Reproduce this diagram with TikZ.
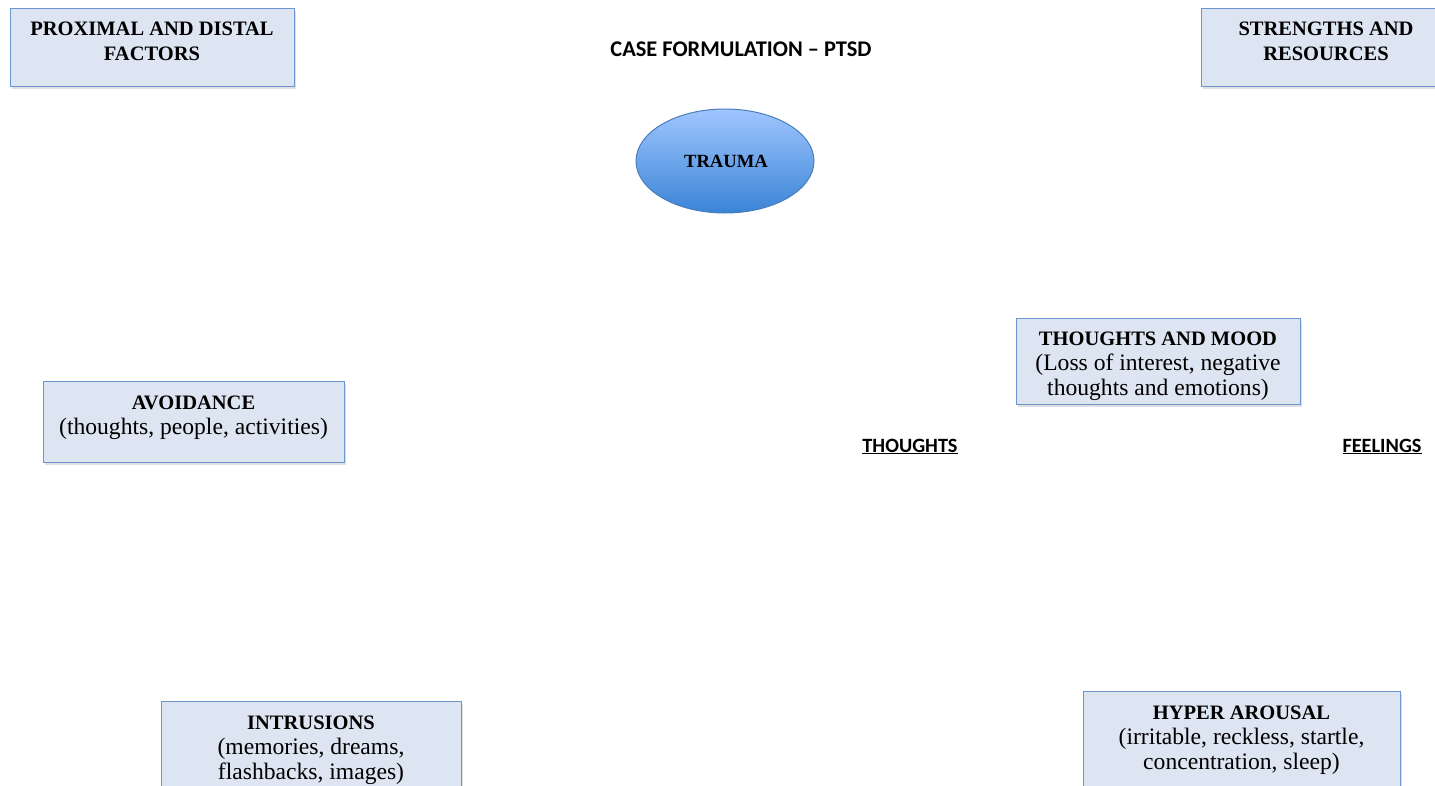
\documentclass[tikz,border=0pt]{standalone}
\usepackage{fontspec}
\setmainfont{Liberation Serif}
\newfontfamily\calibri{Carlito}
\usetikzlibrary{shapes.geometric,shadows}
\definecolor{boxfill}{RGB}{220,229,241}
\definecolor{boxline}{RGB}{108,150,208}
\definecolor{elltop}{RGB}{160,198,255}
\definecolor{ellbot}{RGB}{58,132,214}
\definecolor{ellline}{RGB}{74,126,187}
\newcommand\hd[1]{{\fontsize{20.5}{25}\selectfont\bfseries #1}}
\tikzset{
  box/.style={draw=boxline, line width=1.3pt, fill=boxfill, rectangle, inner sep=0pt, anchor=north west,
    drop shadow={shadow xshift=1.5pt, shadow yshift=-2.5pt, opacity=0.25}},
  boxtext/.style={align=center, inner sep=0pt, anchor=north, font=\fontsize{23.6}{25}\selectfont},
  heading/.style={inner sep=0pt, font=\calibri\bfseries\fontsize{20.3}{22}\selectfont},
}
\begin{document}
\begin{tikzpicture}[x=1pt,y=-1pt]
\useasboundingbox[fill=white] (0,0) rectangle (1435,785);

\node[heading, font=\calibri\bfseries\fontsize{22.4}{24}\selectfont, anchor=base] (title) at (741,56) {CASE FORMULATION – PTSD};

\node[box, minimum width=284, minimum height=78] (prox) at (10,8) {};
\node[boxtext] (proxt) at (152,21.5) {\hd{PROXIMAL AND DISTAL}\\\hd{FACTORS}};

\node[box, minimum width=250, minimum height=78] (str) at (1201,8) {};
\node[boxtext] (strt) at (1326,21.5) {\hd{STRENGTHS AND}\\\hd{RESOURCES}};

\node[draw=ellline, line width=1pt, ellipse, minimum width=178, minimum height=104, inner sep=0pt,
  top color=elltop, bottom color=ellbot] (trauma) at (725,161) {};
\node[inner sep=0pt, anchor=base, font=\fontsize{18.6}{22}\selectfont\bfseries] (traumat) at (726,167) {TRAUMA};

\node[box, minimum width=284, minimum height=86] (tm) at (1016,318) {};
\node[boxtext] (tmt) at (1158,331.5) {\hd{THOUGHTS AND MOOD}\\(Loss of interest, negative\\thoughts and emotions)};

\node[box, minimum width=301, minimum height=81] (av) at (43,381) {};
\node[boxtext] (avt) at (193.5,395.5) {\hd{AVOIDANCE}\\(thoughts, people, activities)};

\node[box, minimum width=300, minimum height=100] (intr) at (161,701) {};
\node[boxtext] (intrt) at (311,715.5) {\hd{INTRUSIONS}\\(memories, dreams,\\flashbacks, images)};

\node[box, minimum width=317, minimum height=110] (hyp) at (1083,691) {};
\node[boxtext] (hypt) at (1241.5,705.5) {\hd{HYPER AROUSAL}\\(irritable, reckless, startle,\\concentration, sleep)};

\node[heading, anchor=base] (thoughts) at (910,452) {\underline{THOUGHTS}};
\node[heading, anchor=base] (feelings) at (1382,452) {\underline{FEELINGS}};
\end{tikzpicture}
\end{document}
